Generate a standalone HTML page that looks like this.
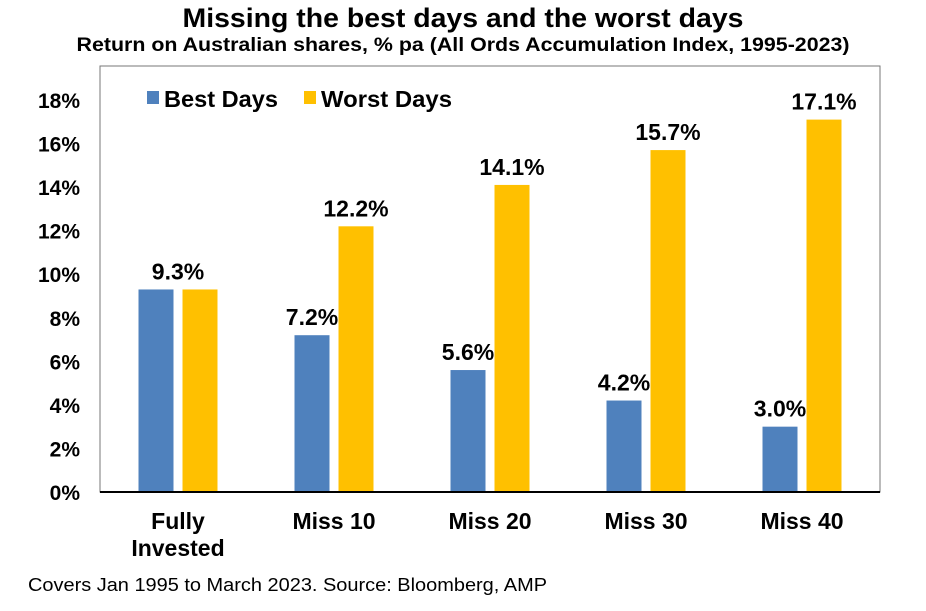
<!DOCTYPE html>
<html><head><meta charset="utf-8"><style>
body{margin:0;background:#fff;width:926px;height:606px;overflow:hidden;font-family:"Liberation Sans",sans-serif}
svg text{font-family:"Liberation Sans",sans-serif}
</style></head><body>
<svg id="chart" width="926" height="606">
<text x="463" y="27" text-anchor="middle" font-size="27" font-weight="bold" textLength="561" lengthAdjust="spacingAndGlyphs">Missing the best days and the worst days</text>
<text x="463" y="51" text-anchor="middle" font-size="19" font-weight="bold" textLength="773" lengthAdjust="spacingAndGlyphs">Return on Australian shares, % pa (All Ords Accumulation Index, 1995-2023)</text>
<rect x="100" y="66" width="780" height="426" fill="none" stroke="#777" stroke-width="1"/>
<g id="yaxis"></g>
<g id="bars"></g>
<line x1="100" y1="492" x2="880" y2="492" stroke="#000" stroke-width="2"/>
<g id="xaxis"></g>
<g>
<g><rect x="147" y="91" width="12" height="13" fill="#4F81BD"/><text x="164" y="107" font-size="23" font-weight="bold" textLength="114" lengthAdjust="spacingAndGlyphs">Best Days</text></g>
<g><rect x="304" y="91" width="12" height="13" fill="#FFC000"/><text x="321" y="107" font-size="23" font-weight="bold" textLength="131" lengthAdjust="spacingAndGlyphs">Worst Days</text></g>
</g>
<text x="28" y="591" font-size="18" textLength="519" lengthAdjust="spacingAndGlyphs">Covers Jan 1995 to March 2023. Source: Bloomberg, AMP</text>
</svg>
<script>
const categories=[["Fully","Invested"],["Miss 10"],["Miss 20"],["Miss 30"],["Miss 40"]];
const bestDays=[9.3,7.2,5.6,4.2,3.0];
const worstDays=[9.3,12.2,14.1,15.7,17.1];
const yTicks=[0,2,4,6,8,10,12,14,16,18];
const NS="http://www.w3.org/2000/svg";
const x0=100,plotW=780,y0=492,yTop=100,yMax=18;
const y=v=>y0-(y0-yTop)*v/yMax;
const band=plotW/categories.length;
const cx=i=>x0+band*(i+0.5);
function mk(tag,attrs,parent,txt){const e=document.createElementNS(NS,tag);for(const k in attrs)e.setAttribute(k,attrs[k]);if(txt!=null)e.textContent=txt;parent.appendChild(e);return e;}
const ya=document.getElementById('yaxis');
yTicks.forEach(t=>{const e=mk('text',{x:80,y:y(t)+8,'text-anchor':'end','font-size':21,'font-weight':'bold'},ya,t+'%');

});
const bg=document.getElementById('bars');
const bw=35,gap=9;
[[bestDays,'#4F81BD',-1,'best'],[worstDays,'#FFC000',1,'worst']].forEach(([arr,col,side,nm])=>{
arr.forEach((v,i)=>{
const bx=side<0?cx(i)-gap/2-bw:cx(i)+gap/2;
const r=mk('rect',{x:bx,y:y(v),width:bw,height:y0-y(v),fill:col},bg);


if(i===0&&side>0)return;
const lx=i===0?cx(i):bx+bw/2;
const t=mk('text',{x:lx,y:y(v)-10,'text-anchor':'middle','font-size':23,'font-weight':'bold'},bg,v.toFixed(1)+'%');


});});
const xa=document.getElementById('xaxis');
categories.forEach((c,i)=>{c.forEach((ln,j)=>{const t=mk('text',{x:cx(i),y:529+j*27,'text-anchor':'middle','font-size':23,'font-weight':'bold'},xa,ln);

});});
</script>
</body></html>
